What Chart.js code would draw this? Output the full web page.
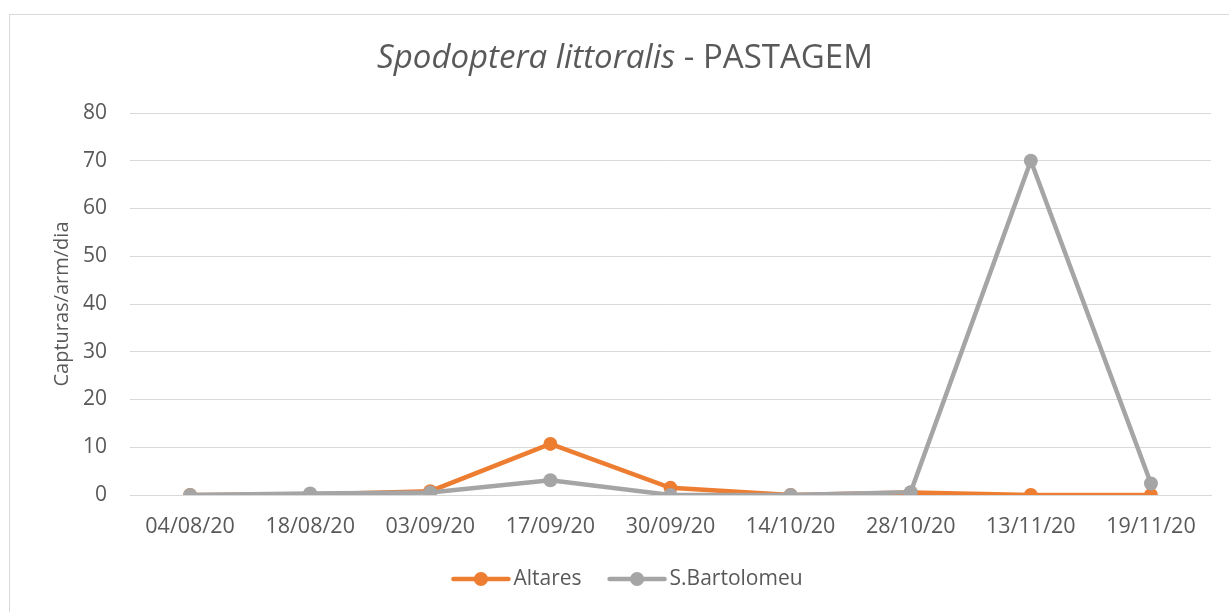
<!DOCTYPE html>
<html><head><meta charset="utf-8">
<script src="https://cdn.jsdelivr.net/npm/chart.js@4.4.1/dist/chart.umd.min.js"></script>
<style>html,body{margin:0;padding:0;background:#fff;}#wrap{width:1229px;height:612px;position:relative;}</style>
</head><body><div id="wrap"><canvas id="c" width="1229" height="612"></canvas></div>
<script>
const categories = ['04/08/20','18/08/20','03/09/20','17/09/20','30/09/20','14/10/20','28/10/20','13/11/20','19/11/20'];
const altares = [0, 0.1, 0.8, 10.7, 1.5, 0, 0.5, 0, 0];
const bartolomeu = [0, 0.3, 0.5, 3.1, 0, 0, 0.6, 70, 2.4];
const yTicks = [0,10,20,30,40,50,60,70,80];
const titleItalic = 'Spodoptera littoralis';
const titleRest = ' - PASTAGEM';
const yTitle = 'Capturas/arm/dia';
const seriesNames = ['Altares','S.Bartolomeu'];
const ORANGE = '#ED7D31', GREY = '#A5A5A5', TXT = '#595959', FONT = "'Open Sans', sans-serif";

const deco = {
  id: 'deco',
  beforeDraw(chart) {
    const ctx = chart.ctx;
    ctx.save();
    ctx.strokeStyle = '#d9d9d9'; ctx.lineWidth = 1;
    ctx.strokeRect(9.5, 14.5, 1300, 700);
    ctx.restore();
  },
  afterDraw(chart) {
    const ctx = chart.ctx;
    ctx.save();
    // title
    ctx.fillStyle = TXT; ctx.textBaseline = 'middle';
    const fI = 'italic 33px ' + FONT, fN = '33px ' + FONT;
    ctx.font = fI; const w1 = ctx.measureText(titleItalic).width;
    ctx.font = fN; const w2 = ctx.measureText(titleRest).width;
    let x = 625 - (w1 + w2) / 2;
    ctx.textAlign = 'left';
    ctx.font = fI; ctx.fillText(titleItalic, x, 59);
    ctx.font = fN; ctx.fillText(titleRest, x + w1, 59);
    // legend
    const items = chart.data.datasets.map(d => ({label: d.label, color: d.borderColor}));
    ctx.font = '21px ' + FONT;
    const lineW = 55, gap = 5, sep = 28;
    let total = 0;
    items.forEach((it, i) => { total += lineW + gap + ctx.measureText(it.label).width + (i ? sep : 0); });
    x = 628 - total / 2;
    const y = 579;
    items.forEach((it, i) => {
      if (i) x += sep;
      ctx.strokeStyle = it.color; ctx.lineWidth = 4.5; ctx.lineCap = 'round';
      ctx.beginPath(); ctx.moveTo(x, y); ctx.lineTo(x + lineW, y); ctx.stroke();
      ctx.fillStyle = it.color; ctx.beginPath(); ctx.arc(x + lineW / 2, y, 7, 0, Math.PI * 2); ctx.fill();
      x += lineW + gap;
      ctx.fillStyle = TXT; ctx.textAlign = 'left'; ctx.fillText(it.label, x, y);
      x += ctx.measureText(it.label).width;
    });
    ctx.restore();
  }
};

new Chart(document.getElementById('c'), {
  type: 'line',
  data: {
    labels: categories,
    datasets: [
      {label: seriesNames[0], data: altares, borderColor: ORANGE, backgroundColor: ORANGE, borderWidth: 4.5, pointRadius: 7, pointHoverRadius: 7, pointBorderWidth: 0, order: 2, tension: 0},
      {label: seriesNames[1], data: bartolomeu, borderColor: GREY, backgroundColor: GREY, borderWidth: 4.5, pointRadius: 7, pointHoverRadius: 7, pointBorderWidth: 0, order: 1, tension: 0}
    ]
  },
  options: {
    responsive: false, animation: false, devicePixelRatio: 1,
    layout: {padding: {top: 113, right: 18, left: 0, bottom: 0}},
    plugins: {legend: {display: false}, title: {display: false}, tooltip: {enabled: false}},
    scales: {
      x: {
        offset: true,
        grid: {display: false, drawTicks: false},
        border: {display: true, color: '#d9d9d9', width: 1},
        ticks: {color: TXT, font: {family: FONT, size: 21.5}, padding: 19, maxRotation: 0, autoSkip: false},
        afterFit(s) { s.height = 117; }
      },
      y: {
        min: 0, max: 80,
        afterBuildTicks(s) { s.ticks = yTicks.map(v => ({value: v})); },
        grid: {color: '#d9d9d9', lineWidth: 1, drawTicks: false},
        border: {display: false},
        ticks: {color: TXT, font: {family: FONT, size: 21}, padding: 23},
        title: {display: true, text: yTitle, color: TXT, font: {family: FONT, size: 20}, padding: {top: 50, bottom: 0}},
        afterFit(s) { s.width = 130; }
      }
    }
  },
  plugins: [deco]
});
</script></body></html>
